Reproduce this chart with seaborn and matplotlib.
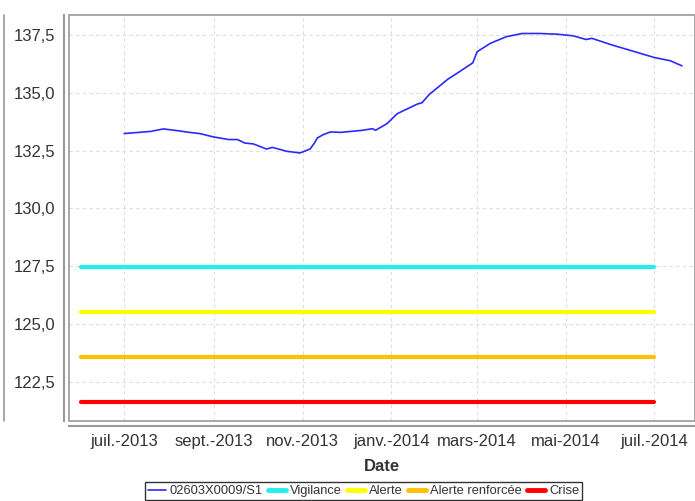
import pandas as pd
import matplotlib
matplotlib.use("Agg")
import matplotlib.pyplot as plt
from matplotlib.ticker import FuncFormatter
from matplotlib.patches import Rectangle
from matplotlib.lines import Line2D
import seaborn as sns

# piezometer level
dates = ['2013-07-01', '2013-07-19', '2013-07-28', '2013-08-06', '2013-08-15',
         '2013-08-22', '2013-08-31', '2013-09-11', '2013-09-17', '2013-09-22',
         '2013-09-28', '2013-10-07', '2013-10-11', '2013-10-21', '2013-10-30',
         '2013-11-06', '2013-11-09', '2013-11-11', '2013-11-15', '2013-11-20',
         '2013-11-27', '2013-12-12', '2013-12-19', '2013-12-21', '2013-12-29',
         '2014-01-05', '2014-01-19', '2014-01-22', '2014-01-27', '2014-02-03',
         '2014-02-09', '2014-02-15', '2014-02-26', '2014-03-01', '2014-03-10',
         '2014-03-21', '2014-04-01', '2014-04-13', '2014-04-25', '2014-05-06',
         '2014-05-15', '2014-05-19', '2014-06-02', '2014-06-16', '2014-07-01',
         '2014-07-12', '2014-07-20']
levels = [133.24, 133.33, 133.44, 133.37, 133.29,
          133.24, 133.10, 132.98, 132.98, 132.83,
          132.79, 132.57, 132.64, 132.47, 132.40,
          132.57, 132.83, 133.05, 133.19, 133.31,
          133.29, 133.38, 133.45, 133.38, 133.67,
          134.10, 134.52, 134.57, 134.93, 135.29,
          135.60, 135.84, 136.30, 136.78, 137.14,
          137.43, 137.57, 137.57, 137.54, 137.47,
          137.31, 137.36, 137.07, 136.81, 136.53,
          136.39, 136.17]
series_name = '02603X0009/S1'

# drought thresholds
threshold_names = ['Vigilance', 'Alerte', 'Alerte renforcée', 'Crise']
threshold_values = [127.47, 125.50, 123.58, 121.62]
threshold_colors = ['#22eeee', '#ffff00', '#ffc000', '#ff0000']
threshold_start = '2013-06-01'
threshold_end = '2014-07-01'

tick_dates = ['2013-07-01', '2013-09-01', '2013-11-01', '2014-01-01',
              '2014-03-01', '2014-05-01', '2014-07-01']
tick_labels = ['juil.-2013', 'sept.-2013', 'nov.-2013', 'janv.-2014',
               'mars-2014', 'mai-2014', 'juil.-2014']
y_ticks = [122.5, 125.0, 127.5, 130.0, 132.5, 135.0, 137.5]

sns.set_theme(style="white")
plt.rcParams['font.family'] = ['Liberation Sans', 'DejaVu Sans']

df = pd.DataFrame({'Date': pd.to_datetime(dates), 'level': levels})
thr = pd.DataFrame({
    'Date': pd.to_datetime([threshold_start, threshold_end] * len(threshold_names)),
    'level': [v for v in threshold_values for _ in range(2)],
    'name': [n for n in threshold_names for _ in range(2)],
})

fig = plt.figure(figsize=(6.95, 5.01), dpi=100)
ax = fig.add_axes([69 / 695, 80 / 501, 626 / 695, 406 / 501])

sns.lineplot(data=thr, x='Date', y='level', hue='name', hue_order=threshold_names,
             palette=threshold_colors, linewidth=3, ax=ax, legend=False)
sns.lineplot(data=df, x='Date', y='level', color='#2a2aff', linewidth=1.2, ax=ax)

ax.set_xlim(pd.Timestamp('2013-05-24'), pd.Timestamp('2014-07-29'))
ax.set_ylim(120.8, 138.37)
ax.set_xticks(pd.to_datetime(tick_dates))
ax.set_xticklabels(tick_labels)
ax.set_yticks(y_ticks)
ax.yaxis.set_major_formatter(FuncFormatter(lambda v, p: f'{v:.1f}'.replace('.', ',')))

ax.grid(True, color='#dddddd', linestyle=(0, (3, 3)), linewidth=0.8)
ax.tick_params(axis='both', labelsize=12, colors='#999999', labelcolor='#333333',
               length=3, width=1, direction='out')
ax.tick_params(axis='x', pad=3)
ax.tick_params(axis='y', pad=3)
for lab in ax.get_xticklabels() + ax.get_yticklabels():
    lab.set_fontweight('bold')

for side in ['top', 'right']:
    ax.spines[side].set_visible(False)
for side in ['left', 'bottom']:
    ax.spines[side].set_position(('outward', 3.6))
    ax.spines[side].set_color('#999999')
    ax.spines[side].set_linewidth(1.5)
ax.add_patch(Rectangle((0, 0), 1, 1, transform=ax.transAxes, fill=False,
                       edgecolor='#999999', linewidth=1.2, clip_on=False))

ax.set_xlabel('Date', fontsize=12, fontweight='bold', color='#333333', labelpad=7)
ax.set_ylabel('')

handles = [Line2D([], [], color='#2a2aff', linewidth=1.2)]
handles += [Line2D([], [], color=c, linewidth=3.5) for c in threshold_colors]
leg = fig.legend(handles, [series_name] + threshold_names, loc='upper center',
                 bbox_to_anchor=(0.523, 0.038), ncol=5, fontsize=9.3, frameon=True,
                 fancybox=False, handlelength=1.4, handletextpad=0.3,
                 columnspacing=0.4, borderpad=0.25, borderaxespad=0)
leg.get_frame().set_edgecolor('#000000')
leg.get_frame().set_linewidth(1)
for t in leg.get_texts():
    t.set_color('#333333')

# edge of the neighbouring panel on the left
fig.add_artist(Line2D([4 / 695, 4 / 695], [80 / 501, 486 / 501],
                      transform=fig.transFigure, color='#999999', linewidth=1.2))

fig.savefig('out.png', dpi=100)
